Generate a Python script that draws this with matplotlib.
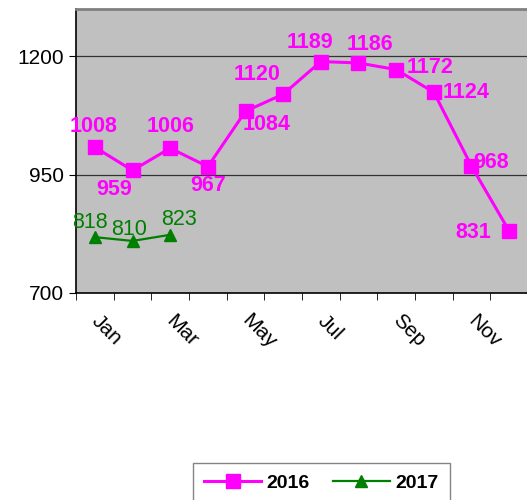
import matplotlib.pyplot as plt
import matplotlib.transforms as mtransforms

plt.rcParams['font.family'] = ['Liberation Sans', 'DejaVu Sans']

# Datos
meses = ['Jan', 'Feb', 'Mar', 'Apr', 'May', 'Jun', 'Jul', 'Aug', 'Sep', 'Oct', 'Nov', 'Dec']
valores_2016 = [1008, 959, 1006, 967, 1084, 1120, 1189, 1186, 1172, 1124, 968, 831]
valores_2017 = [818, 810, 823]

# posicion de las etiquetas (pixeles respecto al marcador)
offs_2016 = [(-1, 21), (-18, -19), (0, 22), (0, -19), (21, -13), (-26, 20),
             (-11, 19), (11, 18), (34, 2), (32, 0), (20, 4), (-36, -2)]
offs_2017 = [(-5, 15), (-3, 11), (9, 15)]

fig = plt.figure(figsize=(5.27, 5.0), dpi=100)
ax = fig.add_axes([76 / 527, 1 - 293 / 500, 452 / 527, 284 / 500])
ax.set_facecolor('#C0C0C0')

x16 = list(range(len(valores_2016)))
x17 = list(range(len(valores_2017)))
ax.plot(x16, valores_2016, color='#FF00FF', lw=2.2, marker='s', ms=9.5, label='2016', zorder=3)
ax.plot(x17, valores_2017, color='#008000', lw=1.6, marker='^', ms=9, label='2017', zorder=3)

for xi, v, (dx, dy) in zip(x16, valores_2016, offs_2016):
    ax.annotate(str(v), (xi, v), xytext=(dx, dy), textcoords='offset pixels',
                ha='center', va='center', color='#FF00FF', fontsize=15.5, fontweight='bold', zorder=4)
for xi, v, (dx, dy) in zip(x17, valores_2017, offs_2017):
    ax.annotate(str(v), (xi, v), xytext=(dx, dy), textcoords='offset pixels',
                ha='center', va='center', color='#008000', fontsize=15.5, zorder=4)

ax.set_xlim(-0.5, 11.5)
ax.set_ylim(700, 1300)
ax.set_yticks([700, 950, 1200])
ax.tick_params(axis='y', labelsize=15, length=5, direction='out', color='black')
for g in [950, 1200]:
    ax.axhline(g, color='#333333', lw=0.9, zorder=1)

ax.set_xticks(range(0, 12, 2))
ax.set_xticklabels(meses[::2], rotation=-45, ha='left', va='top', rotation_mode='anchor', fontsize=15)
ax.set_xticks([i - 0.5 for i in range(13)], minor=True)
ax.tick_params(axis='x', which='major', length=0, pad=13)
ax.tick_params(axis='x', which='minor', length=5, direction='out')
desplaza = mtransforms.ScaledTranslation(6 / 100, 0, fig.dpi_scale_trans)
for lbl in ax.get_xticklabels():
    lbl.set_transform(lbl.get_transform() + desplaza)

ax.spines['right'].set_visible(False)
ax.spines['top'].set_color('#808080')
ax.spines['top'].set_linewidth(2)
ax.spines['left'].set_linewidth(1.2)
ax.spines['bottom'].set_linewidth(1.2)

fig.legend(loc='upper center', bbox_to_anchor=(0.61, 0.074), ncol=2,
           prop={'weight': 'bold', 'size': 14}, handlelength=2.9, handletextpad=0.3,
           columnspacing=1.2, frameon=True, fancybox=False, edgecolor='#666666',
           borderpad=0.6, borderaxespad=0)

fig.savefig('out.png', dpi=100)
